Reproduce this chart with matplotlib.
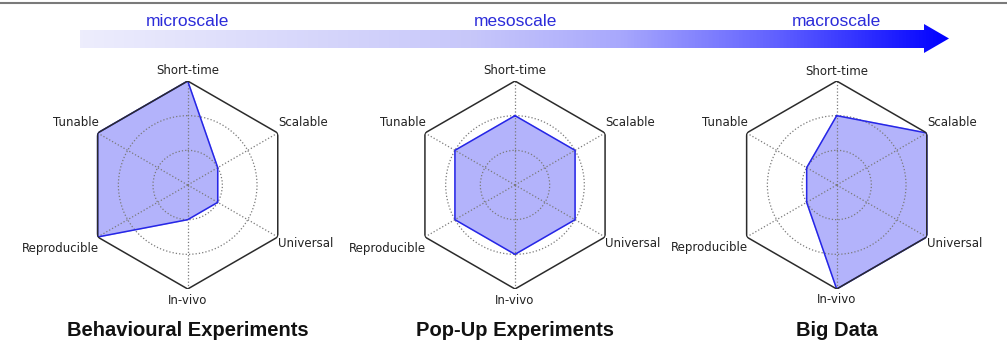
import numpy as np
import matplotlib
matplotlib.use("Agg")
import matplotlib.pyplot as plt
from matplotlib.colors import LinearSegmentedColormap
from matplotlib.patches import Polygon

# ============================================================================
# DATA
# ============================================================================
axis_labels = ['Short-time', 'Scalable', 'Universal', 'In-vivo', 'Reproducible', 'Tunable']
panel_titles = ['Behavioural Experiments', 'Pop-Up Experiments', 'Big Data']
scale_labels = ['microscale', 'mesoscale', 'macroscale']

behavioural = [3, 1, 1, 1, 3, 3]
popup = [2, 2, 2, 2, 2, 2]
bigdata = [2, 3, 3, 3, 1, 1]
panel_values = [behavioural, popup, bigdata]

r_max = 3
ring_levels = [1, 2]

# ============================================================================
# FIGURE
# ============================================================================
W, H = 1007, 350
fig = plt.figure(figsize=(W / 100, H / 100), dpi=100)
fig.patch.set_facecolor('white')

# overlay axes in pixel coordinates for the arrow, frame line and texts
over = fig.add_axes([0, 0, 1, 1])
over.set_xlim(0, W)
over.set_ylim(H, 0)
over.axis('off')

# thin grey frame line at the top
over.plot([0, W], [3, 3], color='#7a7a7a', lw=1.5, solid_capstyle='butt')

# gradient arrow
arrow_pts = [(80, 30), (924, 30), (924, 24), (949, 38.5), (924, 53), (924, 48), (80, 48)]
arrow_patch = Polygon(arrow_pts, closed=True, facecolor='none', edgecolor='none')
over.add_patch(arrow_patch)
cmap = LinearSegmentedColormap.from_list('scale', [
    (0.00, (0.93, 0.93, 0.99)),
    (0.45, (0.78, 0.78, 0.98)),
    (0.62, (0.66, 0.66, 0.99)),
    (0.80, (0.38, 0.38, 1.00)),
    (1.00, (0.00, 0.00, 1.00)),
])
grad = np.linspace(0, 1, 512).reshape(1, -1)
img = over.imshow(grad, cmap=cmap, extent=[80, 950, 53, 24], aspect='auto', zorder=1)
img.set_clip_path(arrow_patch)
over.set_xlim(0, W)
over.set_ylim(H, 0)

# ============================================================================
# RADAR PANELS
# ============================================================================
centers_x = [187.7, 515, 836.7]
center_y = 185
R = 104

n = len(axis_labels)
angles = np.arange(n) * 2 * np.pi / n

# label offsets (pixels) and alignment per axis
label_style = [
    (0, 10, 'center'),
    (0, 11, 'left'),
    (0, -7, 'left'),
    (0, -11, 'center'),
    (1, -11, 'right'),
    (1, 11, 'right'),
]

for cx, values, title, scale in zip(centers_x, panel_values, panel_titles, scale_labels):
    ax = fig.add_axes([(cx - R) / W, (H - center_y - R) / H, 2 * R / W, 2 * R / H],
                      projection='polar')
    ax.set_theta_offset(np.pi / 2)
    ax.set_theta_direction(-1)
    ax.set_ylim(0, r_max)
    ax.set_xticks(angles)
    ax.set_xticklabels([])
    ax.set_yticks(ring_levels)
    ax.set_yticklabels([])
    ax.tick_params(length=0)
    ax.set_axisbelow(False)
    ax.grid(color='#7a7a7a', linestyle=':', lw=0.9)
    ax.spines['polar'].set_visible(False)
    ax.patch.set_alpha(0)

    closed_ang = np.append(angles, angles[0])
    vals = np.append(values, values[0])
    ax.fill(closed_ang, vals, color='#b3b3fb', zorder=2)
    ax.plot(closed_ang, vals, color='#2626e6', lw=1.1, zorder=3)
    # hexagon frame
    ax.plot(closed_ang, [r_max] * (n + 1), color='#2b2b2b', lw=1.1, zorder=4)

    for ang, lab, (dx, dy, ha) in zip(angles, axis_labels, label_style):
        ax.annotate(lab, xy=(ang, r_max), xytext=(dx, dy), textcoords='offset pixels',
                    ha=ha, va='center', fontsize=8.5, color='#222222',
                    annotation_clip=False)

    over.text(cx, 22, scale, ha='center', va='center', fontsize=12.5,
              color='#2b2bd9', family='Liberation Sans')
    over.text(cx, 331, title, ha='center', va='center', fontsize=14.5,
              fontweight='bold', color='#111111', family='Liberation Sans')

plt.savefig('out.png', dpi=100, facecolor='white')
